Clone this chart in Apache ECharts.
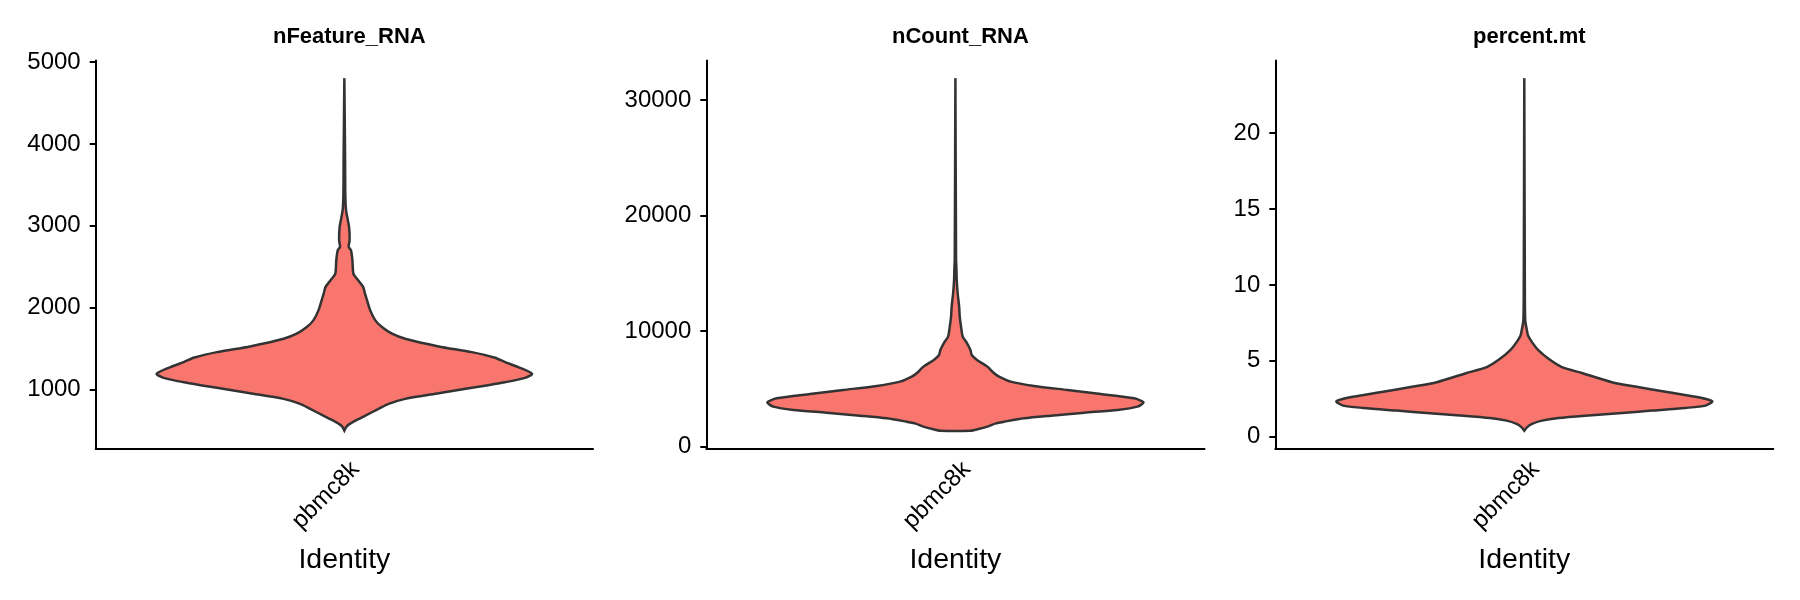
<!DOCTYPE html>
<html>
<head>
<meta charset="utf-8">
<title>VlnPlot</title>
<script src="https://cdn.jsdelivr.net/npm/echarts@6/dist/echarts.min.js"></script>
<style>
  html, body { margin: 0; padding: 0; background: #fff; }
  #chart { width: 1800px; height: 600px; }
</style>
</head>
<body>
<div id="chart"></div>
<script>
// categories and panel titles
var categories = ['pbmc8k'];
var panelTitles = ['nFeature_RNA', 'nCount_RNA', 'percent.mt'];

// violin outlines: y levels and relative half-widths (1 = widest)
var featureLevels = [499, 540, 573, 622, 683, 765, 826, 887, 956, 1022, 1091, 1144, 1193, 1275, 1336, 1389, 1458, 1528, 1621, 1683, 1764, 1846, 1968, 2091, 2172, 2254, 2356, 2417, 2580, 2703, 2743, 2825, 2988, 3192, 3396, 3804, 4804];
var featureWidths = [0, 0.009, 0.023, 0.059, 0.112, 0.182, 0.236, 0.324, 0.502, 0.679, 0.856, 0.963, 1.0, 0.927, 0.856, 0.803, 0.679, 0.502, 0.324, 0.254, 0.2, 0.165, 0.138, 0.121, 0.11, 0.10, 0.066, 0.048, 0.043, 0.035, 0.023, 0.028, 0.025, 0.009, 0.005, 0.004, 0];

var countLevels = [1380, 1496, 1727, 2016, 2160, 2449, 2680, 2939, 3171, 3459, 3835, 4182, 4557, 4903, 5250, 5625, 6058, 6347, 6924, 7502, 7935, 8368, 8946, 9523, 10389, 11256, 12122, 13277, 14432, 15587, 16165, 31903];
var countWidths = [0.08, 0.117, 0.17, 0.215, 0.26, 0.365, 0.507, 0.686, 0.862, 0.968, 1.0, 0.95, 0.773, 0.596, 0.418, 0.294, 0.232, 0.206, 0.17, 0.115, 0.087, 0.08, 0.062, 0.039, 0.03, 0.023, 0.02, 0.012, 0.007, 0.005, 0.0035, 0];

var mtLevels = [0.396, 0.616, 0.837, 1.057, 1.233, 1.387, 1.541, 1.717, 1.894, 2.048, 2.333, 2.598, 2.928, 3.303, 3.589, 4.183, 4.579, 5.13, 5.68, 6.23, 6.67, 7.0, 7.66, 9.42, 23.62];
var mtWidths = [0, 0.014, 0.041, 0.094, 0.182, 0.324, 0.502, 0.679, 0.856, 0.963, 1.0, 0.927, 0.768, 0.59, 0.466, 0.31, 0.2, 0.129, 0.076, 0.041, 0.02, 0.014, 0.005, 0.003, 0];

// y tick labels
var featureTicks = [1000, 2000, 3000, 4000, 5000];
var countTicks = [0, 10000, 20000, 30000];
var mtTicks = [0, 5, 10, 15, 20];

var FONT = '"Liberation Sans", Arial, Helvetica, sans-serif';
var VIOLIN_WIDTH = 0.755;   // full violin width as share of the category band

var myChart = echarts.init(document.getElementById('chart'));

// ggplot style 5% padding of the data range
function expand(levels) {
    var lo = Math.min.apply(null, levels), hi = Math.max.apply(null, levels);
    var pad = (hi - lo) * 0.05;
    return [lo - pad, hi + pad];
}

function violinRender(levels, widths) {
    return function (params, api) {
        if (params.dataIndex !== 0) return;
        var band = api.size([1, 0])[0];
        var right = [], left = [];
        for (var i = 0; i < levels.length; i++) {
            var p = api.coord([0, levels[i]]);
            var half = widths[i] * VIOLIN_WIDTH * band / 2;
            right.push([p[0] + half, p[1]]);
            left.unshift([p[0] - half, p[1]]);
        }
        return {
            type: 'polygon',
            shape: { points: right.concat(left), smooth: 0.25 },
            style: { fill: '#F8766D', stroke: '#333333', lineWidth: 2.5 }
        };
    };
}

var panels = [
    { levels: featureLevels, widths: featureWidths, ticks: featureTicks, left: 95.7, width: 497.3 },
    { levels: countLevels, widths: countWidths, ticks: countTicks, left: 706.3, width: 498.2 },
    { levels: mtLevels, widths: mtWidths, ticks: mtTicks, left: 1275.3, width: 498 }
];

var option = { animation: false, title: [], grid: [], xAxis: [], yAxis: [], series: [] };

panels.forEach(function (pn, k) {
    var ext = expand(pn.levels);
    option.title.push({
        text: panelTitles[k],
        left: pn.left + pn.width / 2,
        top: 21,
        textAlign: 'center',
        textStyle: { fontFamily: FONT, fontSize: 22, fontWeight: 'bold', color: '#000' }
    });
    option.grid.push({ left: pn.left, top: 60.5, width: pn.width, height: 387.8 });
    option.xAxis.push({
        type: 'category',
        gridIndex: k,
        data: categories,
        name: 'Identity',
        nameLocation: 'middle',
        nameGap: 97,
        nameTextStyle: { fontFamily: FONT, fontSize: 28.5, color: '#000' },
        axisLine: { onZero: false, lineStyle: { color: '#000', width: 2 } },
        axisTick: { alignWithLabel: true, length: 6, lineStyle: { color: '#000', width: 2 } },
        axisLabel: {
            rotate: 45, margin: 6, verticalAlign: 'top', padding: [4, 0, 0, 0],
            fontFamily: FONT, fontSize: 24, color: '#000'
        },
        splitLine: { show: false }
    });
    option.yAxis.push({
        type: 'value',
        gridIndex: k,
        min: ext[0],
        max: ext[1],
        axisLine: { show: true, lineStyle: { color: '#000', width: 2 } },
        axisTick: { show: true, length: 6, customValues: pn.ticks, lineStyle: { color: '#000', width: 2 } },
        axisLabel: {
            customValues: pn.ticks, margin: 15, fontFamily: FONT, fontSize: 24, color: '#000',
            formatter: function (v) { return String(v); }
        },
        splitLine: { show: false }
    });
    option.series.push({
        type: 'custom',
        name: panelTitles[k],
        xAxisIndex: k,
        yAxisIndex: k,
        data: pn.levels.map(function (v, i) { return [0, v, pn.widths[i]]; }),
        encode: { x: 0, y: 1 },
        renderItem: violinRender(pn.levels, pn.widths)
    });
});

myChart.setOption(option);
window.addEventListener("resize", function () {
    myChart.resize();
});
</script>
</body>
</html>
